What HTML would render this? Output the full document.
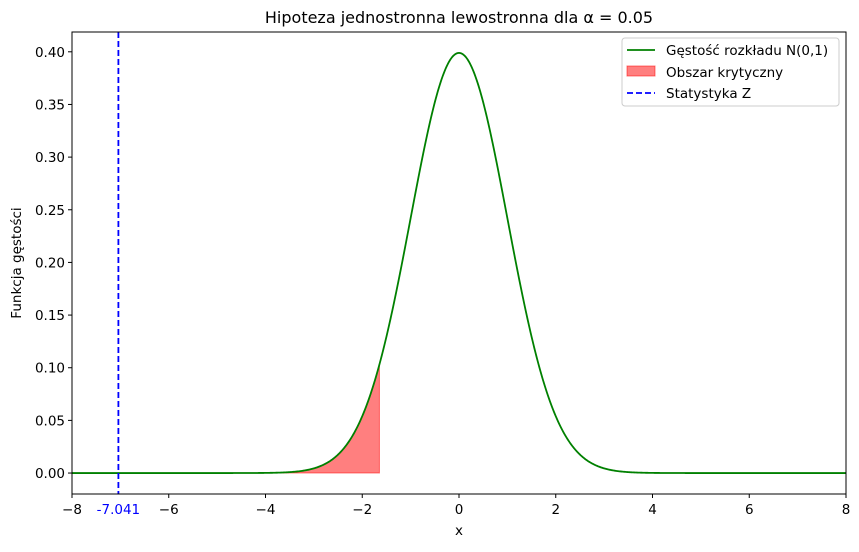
<!DOCTYPE html>
<html><head><meta charset="utf-8"><style>
body{margin:0;background:#fff;font-family:"Liberation Sans","DejaVu Sans",sans-serif}
svg text{font-family:"DejaVu Sans","Liberation Sans",sans-serif}
</style></head><body>
<svg id="chart" width="859" height="547"></svg>
<script>
const xTicks=[-8,-6,-4,-2,0,2,4,6,8];
const yTicks=[0.00,0.05,0.10,0.15,0.20,0.25,0.30,0.35,0.40];
const distMean=[0];
const distSd=[1];
const criticalValue=[-1.645];
const zStat=[-7.041];
const xDomain=[-8,8];
const yDomain=[-0.0199,0.4188];
const L=72,R=846,T=32,B=494;
const sx=v=>L+(v-xDomain[0])/(xDomain[1]-xDomain[0])*(R-L);
const sy=v=>B-(v-yDomain[0])/(yDomain[1]-yDomain[0])*(B-T);
const pdf=x=>Math.exp(-0.5*((x-distMean[0])/distSd[0])**2)/(distSd[0]*Math.sqrt(2*Math.PI));
const svg=document.getElementById('chart');
const NS='http://www.w3.org/2000/svg';
function mk(t,a,p){const e=document.createElementNS(NS,t);for(const k in a)e.setAttribute(k,a[k]);(p||svg).appendChild(e);return e;}
let d='M'+sx(xDomain[0])+','+sy(0);
for(let x=xDomain[0];x<=criticalValue[0];x+=0.02)d+=' L'+sx(x)+','+sy(pdf(x));
d+=' L'+sx(criticalValue[0])+','+sy(pdf(criticalValue[0]))+' L'+sx(criticalValue[0])+','+sy(0)+'Z';
const fill=mk('path',{d:d,fill:'#ff0000','fill-opacity':0.5,stroke:'#ff0000','stroke-opacity':0.5});


let c='';
for(let x=xDomain[0];x<=xDomain[1]+1e-9;x+=0.02)c+=(c?' L':'M')+sx(x).toFixed(2)+','+sy(pdf(x)).toFixed(2);
const curve=mk('path',{d:c,fill:'none',stroke:'green','stroke-width':1.8});


const zl=mk('line',{x1:sx(zStat[0]),x2:sx(zStat[0]),y1:T,y2:B,stroke:'blue','stroke-width':1.8,'stroke-dasharray':'6,3'});


const frame=mk('rect',{x:L,y:T,width:R-L,height:B-T,fill:'none',stroke:'#000','stroke-width':1});


xTicks.forEach(v=>{
  mk('line',{x1:sx(v),x2:sx(v),y1:B,y2:B+4,stroke:'#000'});
  const t=mk('text',{x:sx(v),y:B+20,'text-anchor':'middle','font-size':13.5});
  t.textContent=(v<0?'\u2212':'')+Math.abs(v);
  
  
});
const zt=mk('text',{x:sx(zStat[0]),y:B+20,'text-anchor':'middle','font-size':13.5,fill:'blue'});
zt.textContent=zStat[0].toFixed(3);


yTicks.forEach(v=>{
  mk('line',{x1:L-4,x2:L,y1:sy(v),y2:sy(v),stroke:'#000'});
  const t=mk('text',{x:L-7,y:sy(v)+5,'text-anchor':'end','font-size':13.5});
  t.textContent=v.toFixed(2);
  
  
});
const title=mk('text',{x:(L+R)/2,y:23,'text-anchor':'middle','font-size':16});
title.textContent='Hipoteza jednostronna lewostronna dla α = 0.05';


const xl=mk('text',{x:(L+R)/2,y:535,'text-anchor':'middle','font-size':13.5});
xl.textContent='x';


const yl=mk('text',{x:21,y:(T+B)/2,'text-anchor':'middle','font-size':13.5,transform:'rotate(-90 21 '+(T+B)/2+')'});
yl.textContent='Funkcja gęstości';


const lg=mk('g',{});


mk('rect',{x:622,y:38,width:217,height:68,rx:3,fill:'#fff',stroke:'#ccc'},lg);
mk('line',{x1:627,x2:655,y1:50,y2:50,stroke:'green','stroke-width':1.8},lg);
mk('rect',{x:627,y:66,width:28,height:10,fill:'#ff0000','fill-opacity':0.5,stroke:'#ff0000','stroke-opacity':0.5},lg);
mk('line',{x1:627,x2:655,y1:93,y2:93,stroke:'blue','stroke-width':1.8,'stroke-dasharray':'6,3'},lg);
[['Gęstość rozkładu N(0,1)',55],['Obszar krytyczny',77],['Statystyka Z',98]].forEach(([s,y])=>{
  const t=mk('text',{x:666,y:y,'font-size':13.5},lg);t.textContent=s;
  
  
});
</script>
</body></html>
